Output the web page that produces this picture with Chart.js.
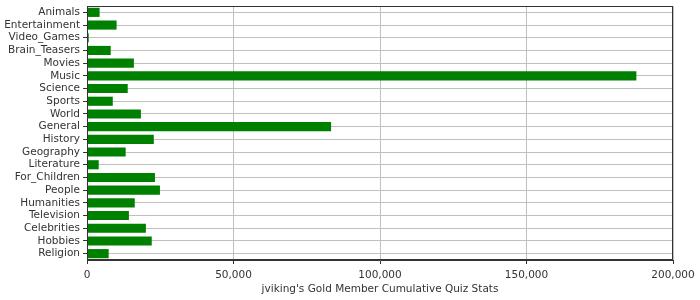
<!DOCTYPE html>
<html>
<head>
<meta charset="utf-8">
<script src="https://cdn.jsdelivr.net/npm/chart.js@4/dist/chart.umd.min.js"></script>
<style>
  html, body { margin: 0; padding: 0; background: #fff; }
  #wrap { width: 700px; height: 300px; }
</style>
</head>
<body>
<div id="wrap"><canvas id="chart" width="700" height="300"></canvas></div>
<script>
// categories top to bottom
const categories = ["Animals", "Entertainment", "Video_Games", "Brain_Teasers", "Movies", "Music",
  "Science", "Sports", "World", "General", "History", "Geography", "Literature", "For_Children",
  "People", "Humanities", "Television", "Celebrities", "Hobbies", "Religion"];

// cumulative points
const quizPoints = [4300, 10100, 600, 8100, 16000, 187500,
  13900, 8800, 18400, 83300, 22800, 13200, 4000, 23200,
  24900, 16300, 14300, 20100, 22100, 7400];

const xTicks = [0, 50000, 100000, 150000, 200000];
const chartTitle = "jviking's Gold Member Cumulative Quiz Stats";

const fontFamily = "'DejaVu Sans', sans-serif";
const fontSize = 10.5;
const textColor = "#333";

// outline around the plot area
const frame = {
  id: "frame",
  afterDraw(chart) {
    const a = chart.chartArea;
    const ctx = chart.ctx;
    ctx.save();
    ctx.strokeStyle = "#333";
    ctx.lineWidth = 1;
    ctx.strokeRect(Math.round(a.left) + 0.5, Math.round(a.top) + 0.5,
      Math.round(a.right - a.left) - 1, Math.round(a.bottom - a.top) - 1);
    ctx.restore();
  }
};

new Chart(document.getElementById("chart"), {
  type: "bar",
  data: {
    labels: categories,
    datasets: [{
      data: quizPoints,
      backgroundColor: "#008000",
      borderWidth: 0,
      barPercentage: 0.72,
      categoryPercentage: 1
    }]
  },
  plugins: [frame],
  options: {
    indexAxis: "y",
    responsive: false,
    animation: false,
    layout: { padding: { top: 6, right: 27, left: 0, bottom: 0 } },
    plugins: {
      legend: { display: false },
      tooltip: { enabled: false }
    },
    scales: {
      x: {
        min: 0,
        max: 200000,
        afterBuildTicks: axis => { axis.ticks = xTicks.map(v => ({ value: v })); },
        afterFit: axis => {
          axis.height = 40;
          axis.paddingLeft = 0;
          axis.paddingRight = 0;
        },
        ticks: {
          color: textColor,
          font: { family: fontFamily, size: fontSize },
          padding: 5,
          callback: v => v.toLocaleString("en-US")
        },
        grid: { color: "#c0c0c0", tickColor: "#333", tickLength: 4 },
        border: { color: "#333" },
        title: {
          display: true,
          text: chartTitle,
          color: textColor,
          font: { family: fontFamily, size: fontSize },
          padding: { top: 0, bottom: 4 }
        }
      },
      y: {
        afterFit: axis => {
          axis.width = 87;
          axis.paddingTop = 0;
          axis.paddingBottom = 0;
        },
        ticks: {
          color: textColor,
          font: { family: fontFamily, size: fontSize },
          padding: 3,
          autoSkip: false
        },
        grid: { offset: false, color: "#c0c0c0", tickColor: "#333", tickLength: 4 },
        border: { color: "#333" }
      }
    }
  }
});
</script>
</body>
</html>
